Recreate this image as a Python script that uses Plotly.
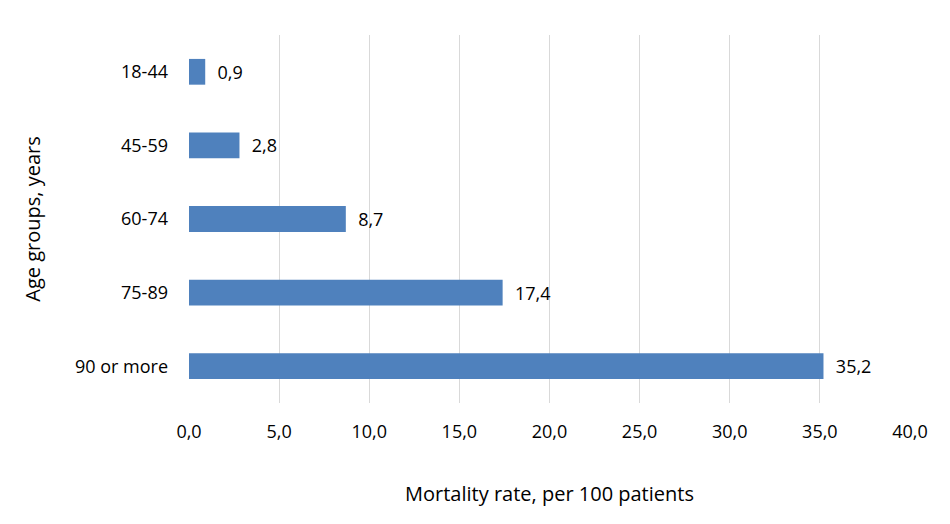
import plotly.graph_objects as go

categories = ["18-44", "45-59", "60-74", "75-89", "90 or more"]
values = [0.9, 2.8, 8.7, 17.4, 35.2]
tick_vals = [0, 5, 10, 15, 20, 25, 30, 35, 40]
tick_text = [f"{v:.1f}".replace(".", ",") for v in tick_vals]
labels = [f"{v:.1f}".replace(".", ",") for v in values]

FONT = "Open Sans"
NBSP = "\u00a0"

fig = go.Figure(go.Bar(
    x=values,
    y=categories,
    orientation="h",
    marker=dict(color="#4F81BD", line=dict(width=0)),
    text=labels,
    texttemplate="  %{text}",
    textposition="outside",
    textfont=dict(family=FONT, size=18, color="#000000"),
    cliponaxis=False,
    width=0.35,
))

fig.update_layout(
    width=942, height=516,
    margin=dict(l=181, r=40, t=27, b=121, autoexpand=False),
    paper_bgcolor="white", plot_bgcolor="white",
    showlegend=False,
    font=dict(family=FONT, size=18, color="#000000"),
    xaxis=dict(
        range=[0, 40],
        tickvals=tick_vals, ticktext=tick_text,
        showgrid=True, gridcolor="#D9D9D9", gridwidth=1,
        zeroline=False, showline=False,
        ticks="", ticklen=0, ticklabelstandoff=16,
        tickfont=dict(family=FONT, size=18),
        automargin=False,
        title=dict(text="Mortality rate, per 100 patients" + NBSP * 2, standoff=44,
                   font=dict(family=FONT, size=20)),
        fixedrange=True,
    ),
    yaxis=dict(
        categoryorder="array", categoryarray=categories[::-1],
        showgrid=False, zeroline=False, showline=False,
        ticks="", ticklabelstandoff=20,
        tickfont=dict(family=FONT, size=18),
        automargin=False,
        title=dict(text=NBSP * 6 + "Age groups, years", standoff=28,
                   font=dict(family=FONT, size=20)),
        fixedrange=True,
    ),
)

fig.write_html("out.html")
